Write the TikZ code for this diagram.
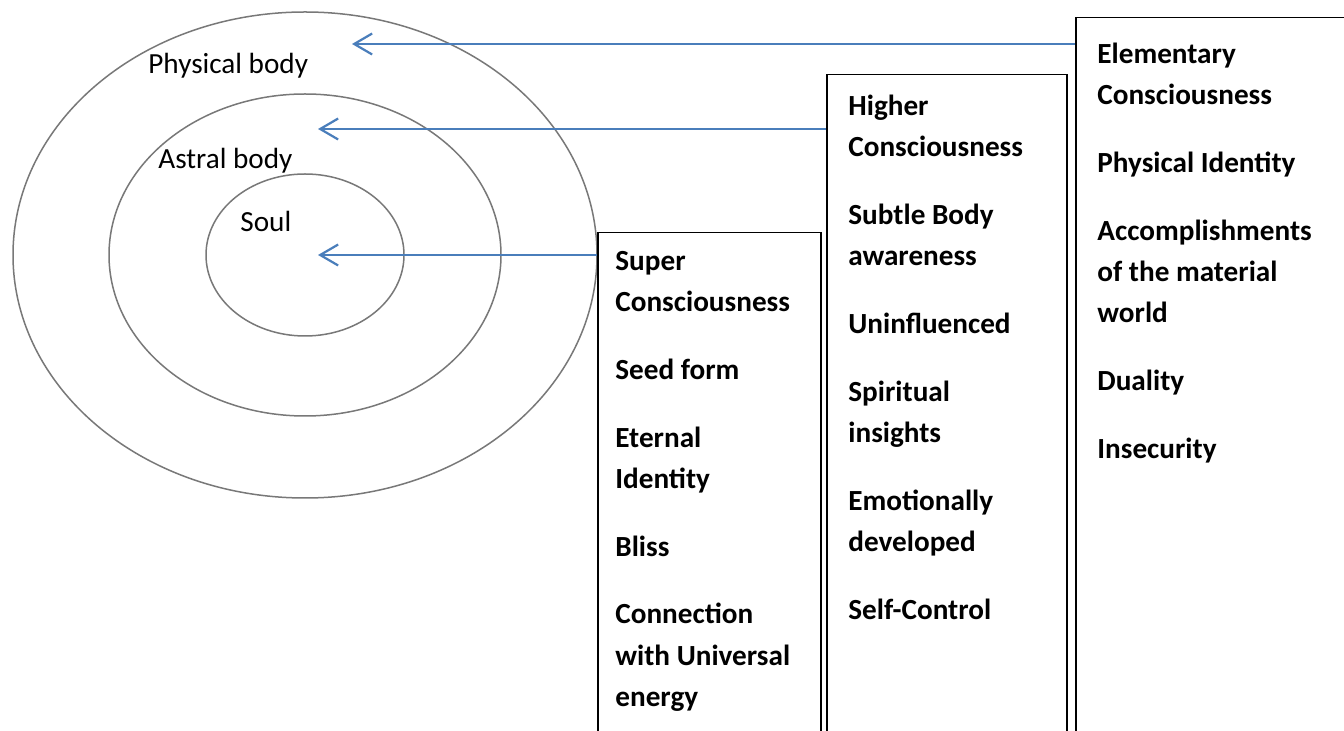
\documentclass[tikz,border=0pt]{standalone}
\usepackage{fontspec}
\setmainfont{Carlito}
\usetikzlibrary{arrows.meta}
\definecolor{arrowblue}{RGB}{74,126,187}
\definecolor{ringgray}{RGB}{120,120,120}
\begin{document}
\begin{tikzpicture}[x=0.5pt,y=-0.5pt,
  ring/.style={draw=ringgray,line width=0.75pt},
  colbox/.style={draw=black,line width=0.75pt,anchor=north west,inner sep=0pt,minimum height=400pt},
  coltext/.style={anchor=north west,inner sep=0pt,align=left,
    font=\bfseries\fontsize{14.6pt}{20.65pt}\selectfont},
  ringlabel/.style={anchor=base west,inner sep=0pt,font=\fontsize{14.6pt}{17pt}\selectfont},
  pointer/.style={draw=arrowblue,line width=1.1pt,-{Straight Barb[length=9pt,width=10.5pt,line width=1.1pt]}}]
\clip (0,0) rectangle (1344,731);
\fill[white] (0,0) rectangle (1344,731);

% nested bodies
\coordinate (ctr) at (305,255);
\draw[ring] (ctr) ellipse [x radius=146pt, y radius=121.5pt];
\draw[ring] (ctr) ellipse [x radius=98pt, y radius=80.5pt];
\draw[ring] (ctr) ellipse [x radius=49.5pt, y radius=40.5pt];

\node[ringlabel] (physical) at (148,74) {Physical body};
\node[ringlabel] (astral) at (158,169) {Astral body};
\node[ringlabel] (soul) at (240,232) {Soul};

% columns, running off the lower edge
\node[colbox,minimum width=111.5pt] (b1) at (597,232) {};
\node[colbox,minimum width=120pt] (b2) at (826,74) {};
\node[colbox,minimum width=200pt] (b3) at (1075,17) {};

\node[coltext] (t1) at (615,230) {\rule{0pt}{20pt}Super\\Consciousness\\[13.2pt]
  Seed form\\[13.2pt]Eternal\\Identity\\[13.2pt]Bliss\\[13.2pt]
  Connection\\with Universal\\energy};
\node[coltext] (t2) at (848,75) {\rule{0pt}{20pt}Higher\\Consciousness\\[13.2pt]
  Subtle Body\\awareness\\[13.2pt]Uninfluenced\\[13.2pt]Spiritual\\insights\\[13.2pt]
  Emotionally\\developed\\[13.2pt]Self-Control};
\node[coltext] (t3) at (1097,23) {\rule{0pt}{20pt}Elementary\\Consciousness\\[13.2pt]
  Physical Identity\\[13.2pt]Accomplishments\\of the material\\world\\[13.2pt]
  Duality\\[13.2pt]Insecurity};

% pointers into the rings
\coordinate (p3) at (352,44);
\coordinate (p2) at (318,129);
\coordinate (p1) at (318,255);
\draw[pointer] (b3.west |- p3) -- (p3);
\draw[pointer] (b2.west |- p2) -- (p2);
\draw[pointer] (b1.west |- p1) -- (p1);
\end{tikzpicture}
\end{document}
